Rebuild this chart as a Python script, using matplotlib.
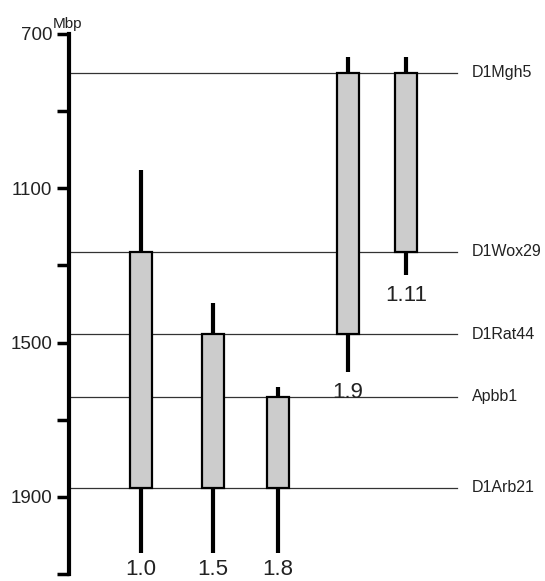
import matplotlib
matplotlib.use("Agg")
import matplotlib.pyplot as plt

plt.rcParams['font.family'] = ['Liberation Sans', 'DejaVu Sans']

# marker positions (Mbp)
marker_names = ['D1Mgh5', 'D1Wox29', 'D1Rat44', 'Apbb1', 'D1Arb21']
marker_pos = [800, 1265, 1478, 1640, 1876]

# intervals: label, whisker top, box top, box bottom, whisker bottom
bar_labels = ['1.0', '1.5', '1.8', '1.9', '1.11']
whisk_top = [1053, 1397, 1615, 760, 760]
box_top = [1265, 1478, 1640, 800, 800]
box_bot = [1876, 1876, 1876, 1478, 1265]
whisk_bot = [2046, 2046, 2046, 1576, 1325]

# horizontal layout (pixels right of the axis)
bar_x = [72, 144, 209, 279, 337]
line_end = 388
box_w = 22

W, H = 545, 581
fig = plt.figure(figsize=(W / 100, H / 100), dpi=100)
ax = fig.add_axes([69 / W, 7 / H, (W - 69) / W, 540 / H])
ax.set_xlim(0, W - 69)
ax.set_ylim(2100, 700)

for name, y in zip(marker_names, marker_pos):
    ax.plot([0, line_end], [y, y], color='#333333', lw=0.9, zorder=1)
    ax.text(line_end + 15, y, name, va='center', ha='left', fontsize=11.5,
            color='#222222')

for i in range(len(bar_labels)):
    x = bar_x[i]
    ax.plot([x, x], [whisk_top[i], whisk_bot[i]], color='black', lw=3,
            solid_capstyle='butt', zorder=2)
    ax.add_patch(plt.Rectangle((x - box_w / 2, box_top[i]), box_w,
                               box_bot[i] - box_top[i], facecolor='#cccccc',
                               edgecolor='black', lw=1.6, zorder=3))
    off = -7 if whisk_bot[i] < 2000 else -4
    ax.annotate(bar_labels[i], (x, whisk_bot[i]), xytext=(0, off),
                textcoords='offset points', ha='center', va='top',
                fontsize=16, color='#222222', annotation_clip=False)

for s in ['top', 'right', 'bottom']:
    ax.spines[s].set_visible(False)
ax.spines['left'].set_linewidth(3)
ax.spines['left'].set_capstyle('projecting')
ax.set_xticks([])
ax.set_yticks([700, 1100, 1500, 1900])
ax.set_yticks([900, 1300, 1700, 2100], minor=True)
ax.tick_params(axis='y', which='both', length=9, width=2.5, labelsize=13.5,
               pad=3, labelcolor='#222222')
ax.text(-2, 693, 'Mbp', ha='center', va='bottom', fontsize=11,
        color='#222222', clip_on=False)

fig.savefig('out.png', dpi=100)
